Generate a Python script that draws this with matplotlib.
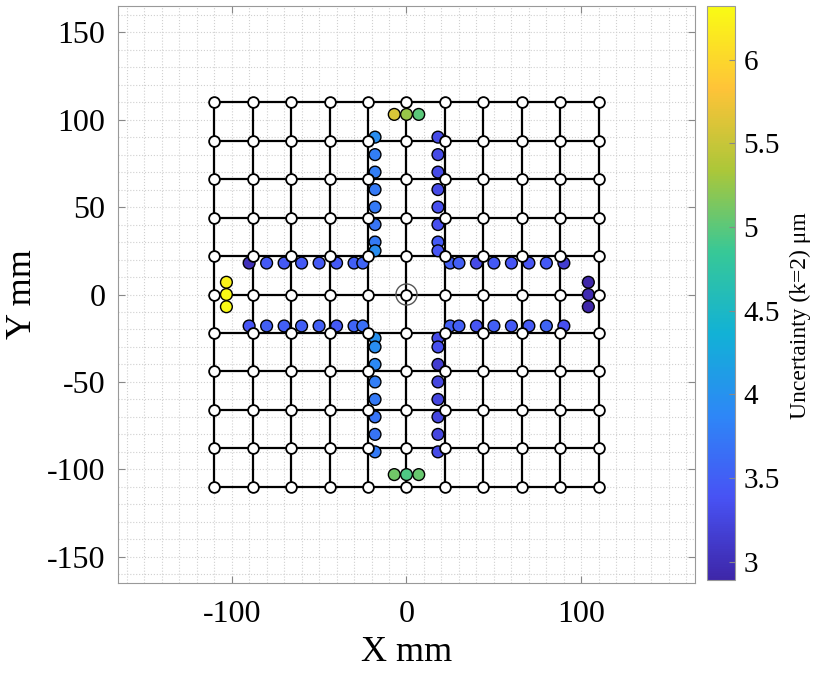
import numpy as np
import matplotlib
matplotlib.use("Agg")
import matplotlib.pyplot as plt
from matplotlib.colors import LinearSegmentedColormap
from matplotlib.ticker import MultipleLocator

plt.rcParams['font.family'] = ['Liberation Serif', 'DejaVu Serif']
plt.rcParams['axes.unicode_minus'] = False

# Reference grid nodes (mm)
grid_pos = [-110, -88, -66, -44, -22, 0, 22, 44, 66, 88, 110]

# Measured points along the cross arms (mm) and their uncertainty (um)
row_x = [-90, -80, -70, -60, -50, -40, -30, -25, 25, 30, 40, 50, 60, 70, 80, 90]
row_top_u = [3.0, 3.45, 3.45, 3.45, 3.45, 3.45, 3.5, 3.55,
             3.5, 3.5, 3.3, 3.45, 3.4, 3.4, 3.45, 3.15]
row_bot_u = [3.4, 3.5, 3.5, 3.5, 3.5, 3.45, 3.55, 3.65,
             3.5, 3.5, 3.4, 3.5, 3.45, 3.45, 3.55, 3.35]

col_y = [90, 80, 70, 60, 50, 40, 30, 25, -25, -30, -40, -50, -60, -70, -80, -90]
col_left_u = [3.95, 3.8, 3.8, 3.75, 3.75, 3.7, 3.75, 3.95,
              4.0, 3.95, 3.9, 3.8, 3.75, 3.7, 3.7, 3.75]
col_right_u = [3.3, 3.3, 3.3, 3.3, 3.35, 3.35, 3.45, 3.4,
               3.3, 3.35, 3.15, 3.25, 3.25, 3.25, 3.25, 3.3]

# End clusters
cluster_off = [-7, 0, 7]
top_u = [5.6, 5.25, 5.0]
bot_u = [5.1, 4.95, 5.05]
left_u = [6.25, 6.3, 6.3]
right_u = [2.9, 2.95, 2.9]

row_y = 18
col_x = 18
cluster_pos = 103

# approximate MATLAB parula
parula_anchors = [
    (0.2422, 0.1504, 0.6603),
    (0.2810, 0.3228, 0.9579),
    (0.1786, 0.5289, 0.9682),
    (0.0689, 0.6948, 0.8394),
    (0.2161, 0.7843, 0.5923),
    (0.6720, 0.7793, 0.2227),
    (0.9970, 0.7659, 0.2199),
    (0.9769, 0.9839, 0.0805),
]
parula = LinearSegmentedColormap.from_list("parula", parula_anchors, N=256)

vmin, vmax = 2.89, 6.32

fig = plt.figure(figsize=(8.2, 6.73), dpi=100)
ax = fig.add_axes([118 / 820, 90 / 673, 577 / 820, 577 / 673])
cax = fig.add_axes([707 / 820, 93 / 673, 28 / 820, 574 / 673])

# grid lines
for g in grid_pos:
    ax.plot([grid_pos[0], grid_pos[-1]], [g, g], color='black', lw=1.6, zorder=2)
    ax.plot([g, g], [grid_pos[0], grid_pos[-1]], color='black', lw=1.6, zorder=2)

# measured points
xs = list(row_x) * 2 + [-col_x] * len(col_y) + [col_x] * len(col_y)
ys = [row_y] * len(row_x) + [-row_y] * len(row_x) + list(col_y) * 2
us = row_top_u + row_bot_u + col_left_u + col_right_u

xs += cluster_off + cluster_off + [-cluster_pos] * 3 + [cluster_pos + 1] * 3
ys += [cluster_pos] * 3 + [-cluster_pos] * 3 + cluster_off[::-1] + cluster_off[::-1]
us += top_u + bot_u + left_u + right_u

sc = ax.scatter(xs, ys, c=us, cmap=parula, vmin=vmin, vmax=vmax, s=72,
                edgecolors='black', linewidths=1.0, zorder=3)

# white nodes
gx, gy = np.meshgrid(grid_pos, grid_pos)
ax.scatter(gx.ravel(), gy.ravel(), s=60, facecolors='white', edgecolors='black',
           linewidths=1.3, zorder=4)

# centre target ring
ax.scatter([0], [0], s=230, facecolors='none', edgecolors='#555555',
           linewidths=1.0, zorder=5)

ax.set_xlim(-165, 165)
ax.set_ylim(-165, 165)
ax.set_xticks([-100, 0, 100])
ax.set_yticks([-150, -100, -50, 0, 50, 100, 150])
ax.xaxis.set_minor_locator(MultipleLocator(10))
ax.yaxis.set_minor_locator(MultipleLocator(10))
ax.grid(True, which='both', linestyle=':', color='#d0d0d0', lw=0.8, zorder=0)
ax.set_axisbelow(True)
ax.tick_params(which='major', direction='in', length=5, color='#888888',
               labelsize=23, top=True, right=True, pad=9)
ax.tick_params(axis='x', pad=12)
ax.tick_params(which='minor', length=0)
for sp in ax.spines.values():
    sp.set_color('#999999')
    sp.set_linewidth(0.8)

ax.set_xlabel('X mm', fontsize=26, labelpad=5)
ax.set_ylabel('Y mm', fontsize=26, labelpad=6)

cb = fig.colorbar(sc, cax=cax)
cb.set_ticks([3, 3.5, 4, 4.5, 5, 5.5, 6])
cb.set_ticklabels(['3', '3.5', '4', '4.5', '5', '5.5', '6'])
cb.ax.tick_params(labelsize=21, direction='in', length=4, color='#888888', pad=6)
cb.outline.set_edgecolor('#999999')
cb.set_label('Uncertainty (k=2) μm', fontsize=17)
cb.ax.yaxis.set_label_coords(2.95, 0.46)

fig.savefig('out.png', dpi=100)
